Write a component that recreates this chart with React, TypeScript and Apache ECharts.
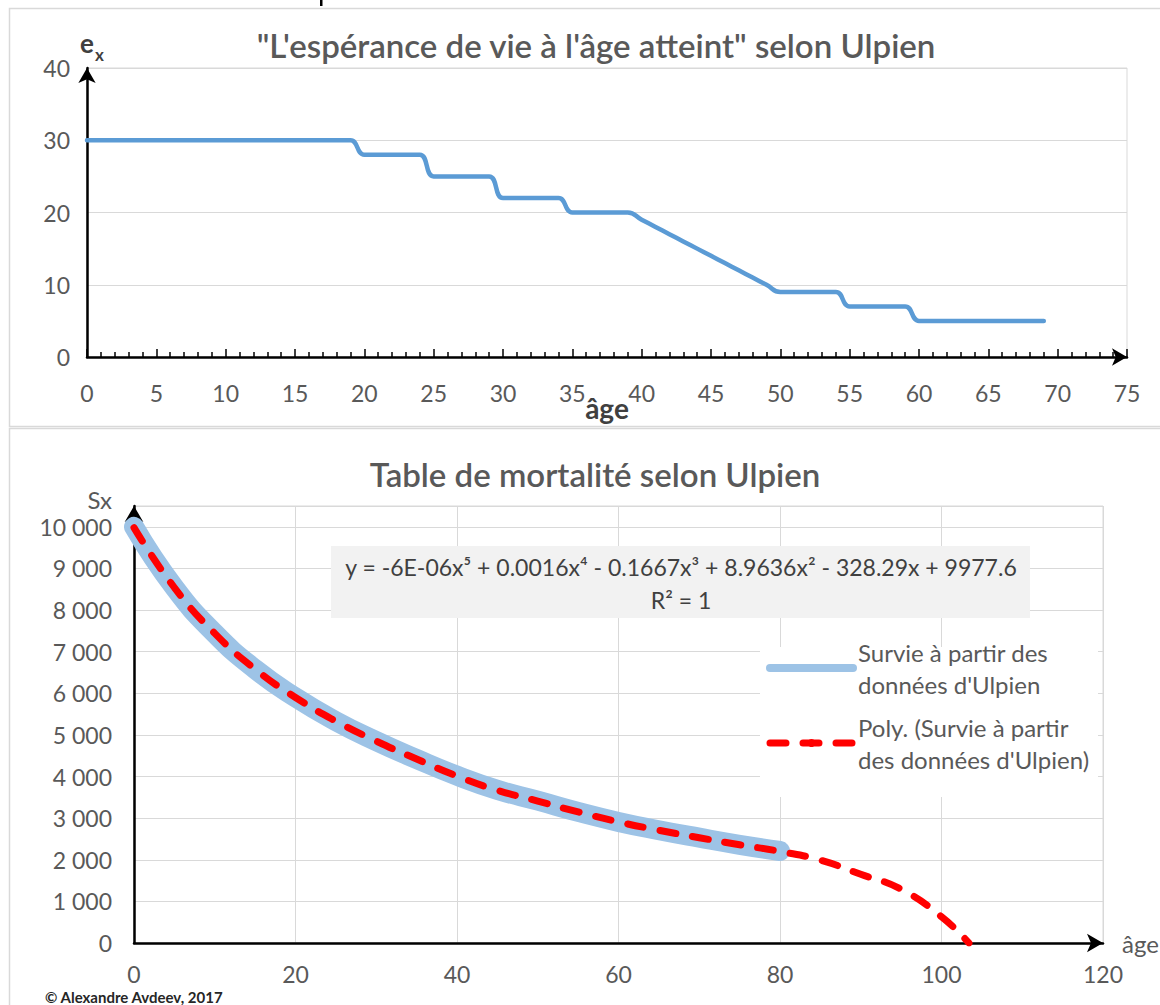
import React, { useEffect, useRef } from "react";
import * as echarts from "echarts";

// ---------- Top chart data: life expectancy by age (Ulpian) ----------
const topAges = [
  0, 1, 2, 3, 4, 5, 6, 7, 8, 9, 10, 11, 12, 13, 14, 15, 16, 17, 18, 19,
  20, 21, 22, 23, 24, 25, 26, 27, 28, 29, 30, 31, 32, 33, 34, 35, 36, 37, 38, 39,
  40, 41, 42, 43, 44, 45, 46, 47, 48, 49, 50, 51, 52, 53, 54, 55, 56, 57, 58, 59,
  60, 61, 62, 63, 64, 65, 66, 67, 68, 69,
];
const topEx = [
  30, 30, 30, 30, 30, 30, 30, 30, 30, 30, 30, 30, 30, 30, 30, 30, 30, 30, 30, 30,
  28, 28, 28, 28, 28, 25, 25, 25, 25, 25, 22, 22, 22, 22, 22, 20, 20, 20, 20, 20,
  19, 18, 17, 16, 15, 14, 13, 12, 11, 10, 9, 9, 9, 9, 9, 7, 7, 7, 7, 7,
  5, 5, 5, 5, 5, 5, 5, 5, 5, 5,
];

// ---------- Bottom chart data: survivors Sx ----------
const survAges = [0, 5, 10, 15, 20, 25, 30, 35, 40, 45, 50, 55, 60, 65, 70, 75, 80];
const survValues = [10000, 8540, 7440, 6580, 5900, 5330, 4850, 4420, 4020, 3680, 3420, 3150, 2910, 2710, 2530, 2360, 2210];
const trendAges = [0, 5, 10, 15, 20, 25, 30, 35, 40, 45, 50, 55, 60, 65, 70, 75, 80, 85, 90, 95, 100, 103.4];
const trendValues = [9980, 8540, 7440, 6580, 5900, 5330, 4850, 4420, 4010, 3670, 3410, 3150, 2910, 2710, 2530, 2360, 2200, 1990, 1650, 1290, 630, 0];

const topTitle = "\"L'espérance de vie à l'âge atteint\" selon Ulpien";
const bottomTitle = "Table de mortalité selon Ulpien";
const seriesNames = ["Survie à partir des\ndonnées d'Ulpien", "Poly. (Survie à partir\ndes données d'Ulpien)"];
const equationLines = ["y = -6E-06x⁵ + 0.0016x⁴ - 0.1667x³ + 8.9636x² - 328.29x + 9977.6", "R² = 1"];
const credit = "© Alexandre Avdeev, 2017";

const FONT = "Lato, 'Open Sans', sans-serif";
const GREY = "#595959";
const GRID = "#D9D9D9";

function fmtThousands(v: number): string {
  const s = String(Math.round(v));
  return s.replace(/\B(?=(\d{3})+(?!\d))/g, " ");
}

export default function App() {
  const ref = useRef<HTMLDivElement>(null);
  useEffect(() => {
    if (!ref.current) return;
    const chart = echarts.init(ref.current, undefined, { renderer: "svg" });
    const option: any = {
      animation: false,
      backgroundColor: "#ffffff",
      textStyle: { fontFamily: FONT },
      title: [
        {
          text: topTitle,
          left: 596,
          top: 28,
          padding: 0,
          textAlign: "center",
          textStyle: { fontFamily: FONT, fontSize: 33, fontWeight: 600, color: GREY },
        },
        {
          text: bottomTitle,
          left: 595,
          top: 457,
          padding: 0,
          textAlign: "center",
          textStyle: { fontFamily: FONT, fontSize: 33, fontWeight: 600, color: GREY },
        },
      ],
      grid: [
        { left: 87, top: 68, width: 1040, height: 289, show: true, borderColor: GRID, borderWidth: 1, outerBoundsMode: "none" },
        { left: 134, top: 506, width: 969, height: 437, show: true, borderColor: GRID, borderWidth: 1, outerBoundsMode: "none" },
      ],
      xAxis: [
        {
          type: "value",
          gridIndex: 0,
          min: 0,
          max: 75,
          interval: 5,
          name: "âge",
          nameLocation: "middle",
          nameGap: 37,
          nameMoveOverlap: false,
          nameTextStyle: { fontFamily: FONT, fontSize: 28, fontWeight: "bold", color: "#404040" },
          axisLine: { show: true, symbol: ["none", "arrow"], symbolSize: [13, 15], lineStyle: { color: "#000", width: 2.5 } },
          axisTick: { show: true, inside: true, length: 8, lineStyle: { color: "#000", width: 1.5 } },
          minorTick: { show: true, splitNumber: 5, length: 5, lineStyle: { color: "#000", width: 1.5 } },
          axisLabel: { fontFamily: FONT, fontSize: 23, color: GREY, margin: 24 },
          splitLine: { show: false },
        },
        {
          type: "value",
          gridIndex: 1,
          min: 0,
          max: 120,
          interval: 20,
          name: "âge",
          nameLocation: "end",
          nameGap: 19,
          nameMoveOverlap: false,
          nameTextStyle: { fontFamily: FONT, fontSize: 24, color: GREY },
          axisLine: { show: true, symbol: ["none", "arrow"], symbolSize: [14, 16], lineStyle: { color: "#000", width: 2.5 } },
          axisTick: { show: false },
          axisLabel: { fontFamily: FONT, fontSize: 23, color: GREY, margin: 19 },
          splitLine: { show: true, lineStyle: { color: GRID, width: 1 } },
        },
      ],
      yAxis: [
        {
          type: "value",
          gridIndex: 0,
          min: 0,
          max: 40,
          interval: 10,
          axisLine: { show: true, symbol: ["none", "arrow"], symbolSize: [13, 15], lineStyle: { color: "#000", width: 2.5 } },
          axisTick: { show: false },
          axisLabel: { fontFamily: FONT, fontSize: 23, color: GREY, margin: 17 },
          splitLine: { show: true, lineStyle: { color: GRID, width: 1 } },
        },
        {
          type: "value",
          gridIndex: 1,
          min: 0,
          max: 10500,
          interval: 1000,
          name: "Sx",
          nameLocation: "end",
          nameGap: 7,
          nameMoveOverlap: false,
          nameTextStyle: { fontFamily: FONT, fontSize: 24, color: GREY, align: "right", verticalAlign: "middle", padding: [0, 22, 0, 0] },
          axisLine: { show: true, symbol: ["none", "arrow"], symbolSize: [14, 16], lineStyle: { color: "#000", width: 2.5 } },
          axisTick: { show: false },
          axisLabel: { fontFamily: FONT, fontSize: 23, color: GREY, margin: 22, showMaxLabel: false, formatter: (v: number) => fmtThousands(v) },
          splitLine: { show: true, lineStyle: { color: GRID, width: 1 } },
        },
      ],
      legend: {
        orient: "vertical",
        left: 766,
        top: 620,
        padding: 0,
        itemGap: -21,
        itemWidth: 83,
        itemHeight: 10,
        textStyle: { fontFamily: FONT, fontSize: 24, color: GREY, lineHeight: 32, padding: [32, 0, 0, 0] },
        data: [
          { name: seriesNames[0], lineStyle: { width: 8 } },
          { name: seriesNames[1], lineStyle: { width: 7 } },
        ],
      },
      series: [
        {
          type: "line",
          name: "e(x)",
          xAxisIndex: 0,
          yAxisIndex: 0,
          data: topAges.map((a, i) => [a, topEx[i]]),
          smooth: 0.5,
          symbol: "none",
          lineStyle: { color: "#5B9BD5", width: 4.5, cap: "round", join: "round" },
        },
        {
          type: "line",
          name: seriesNames[0],
          xAxisIndex: 1,
          yAxisIndex: 1,
          data: survAges.map((a, i) => [a, survValues[i]]),
          smooth: 0.5,
          symbol: "none",
          z: 3,
          lineStyle: { color: "#9DC3E6", width: 20, cap: "round", join: "round" },
          itemStyle: { color: "#9DC3E6" },
        },
        {
          type: "line",
          name: seriesNames[1],
          xAxisIndex: 1,
          yAxisIndex: 1,
          data: trendAges.map((a, i) => [a, trendValues[i]]),
          smooth: 0.5,
          symbol: "none",
          z: 4,
          lineStyle: { color: "#FF0000", width: 7, type: [16, 17], cap: "round", join: "round" },
          itemStyle: { color: "#FF0000" },
        },
      ],
      graphic: [
        { type: "rect", silent: true, z: -10, shape: { x: 9.5, y: 8.5, width: 1180, height: 418 }, style: { fill: "none", stroke: GRID, lineWidth: 1.5 } },
        { type: "rect", silent: true, z: -10, shape: { x: 9.5, y: 428.5, width: 1180, height: 620 }, style: { fill: "none", stroke: GRID, lineWidth: 1.5 } },
        { type: "rect", silent: true, shape: { x: 320, y: 0, width: 2.5, height: 6 }, style: { fill: "#000" } },
        { type: "text", silent: true, x: 80, y: 43, style: { text: "e", fontFamily: FONT, fontSize: 26, fontWeight: "bold", fill: "#404040", verticalAlign: "middle" } },
        { type: "text", silent: true, x: 95, y: 54, style: { text: "x", fontFamily: FONT, fontSize: 17, fontWeight: "bold", fill: "#404040", verticalAlign: "middle" } },
        { type: "rect", silent: true, z: 1, shape: { x: 331, y: 546, width: 699, height: 72 }, style: { fill: "#F2F2F2" } },
        { type: "text", silent: true, z: 2, x: 681, y: 567, style: { text: equationLines[0], fontFamily: FONT, fontSize: 23, fill: "#404040", align: "center", verticalAlign: "middle" } },
        { type: "text", silent: true, z: 2, x: 681, y: 600, style: { text: equationLines[1], fontFamily: FONT, fontSize: 23, fill: "#404040", align: "center", verticalAlign: "middle" } },
        { type: "rect", silent: true, z: 1, shape: { x: 760, y: 647, width: 338, height: 150 }, style: { fill: "#ffffff" } },
        { type: "text", silent: true, x: 45, y: 997, style: { text: credit, fontFamily: FONT, fontSize: 15, fontWeight: "bold", fill: "#262626", verticalAlign: "middle" } },
      ],
    };
    chart.setOption(option);
    return () => chart.dispose();
  }, []);
  return (
    <div
      ref={ref}
      style={{ position: "absolute", left: 0, top: 0, width: 1160, height: 1005, background: "#fff" }}
    />
  );
}
